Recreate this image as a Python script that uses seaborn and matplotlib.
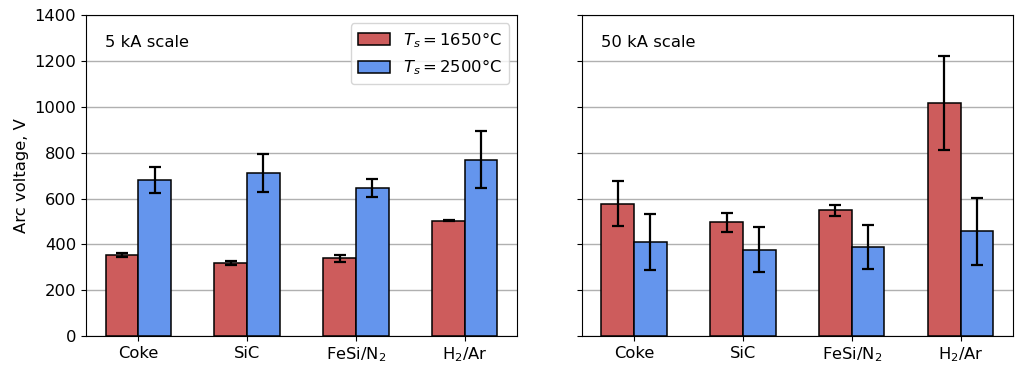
import matplotlib
matplotlib.use("Agg")
import matplotlib.pyplot as plt
import seaborn as sns
import pandas as pd

# materials and the two source temperatures
materials = ["Coke", "SiC", "FeSi/N$_2$", "H$_2$/Ar"]
temps = [r"$T_s = 1650$°C", r"$T_s = 2500$°C"]

# 5 kA scale
v5_1650 = [354, 319, 340, 504]
e5_1650 = [9, 8, 15, 3]
v5_2500 = [680, 711, 645, 769]
e5_2500 = [57, 83, 39, 124]

# 50 kA scale
v50_1650 = [578, 496, 549, 1016]
e50_1650 = [98, 41, 24, 206]
v50_2500 = [412, 377, 388, 457]
e50_2500 = [122, 99, 97, 145]

panels = [
    ("5 kA scale", v5_1650, e5_1650, v5_2500, e5_2500),
    ("50 kA scale", v50_1650, e50_1650, v50_2500, e50_2500),
]

palette = ["#CD5C5C", "#6495ED"]
fs = 11.8

fig = plt.figure(figsize=(10.28, 3.78), dpi=100)
ax1 = fig.add_axes([0.0837, 0.111, 0.4193, 0.849])
ax2 = fig.add_axes([0.566, 0.111, 0.4193, 0.849], sharey=ax1)

for ax, (title, a, ea, b, eb) in zip([ax1, ax2], panels):
    df = pd.DataFrame({
        "material": materials * 2,
        "temp": [temps[0]] * 4 + [temps[1]] * 4,
        "voltage": a + b,
    })
    errs = ea + eb
    sns.barplot(ax=ax, data=df, x="material", y="voltage", hue="temp",
                palette=palette, saturation=1, width=0.6, errorbar=None,
                edgecolor="black", linewidth=1.1, zorder=3)
    bars = ax.patches[:8]
    for p, e in zip(bars, errs):
        xc = p.get_x() + p.get_width() / 2
        ax.errorbar(xc, p.get_height(), yerr=e, color="black", lw=1.6,
                    capsize=4, capthick=1.6, zorder=4)
    ax.set_ylim(0, 1400)
    ax.set_yticks(range(0, 1401, 200))
    ax.yaxis.grid(True, color="#b0b0b0", lw=1, zorder=0)
    ax.set_axisbelow(True)
    ax.set_xlabel("")
    ax.text(0.045, 0.9, title, transform=ax.transAxes, fontsize=fs)
    ax.tick_params(labelsize=fs)

ax1.set_ylabel("Arc voltage, V", fontsize=fs)
ax2.set_ylabel("")
ax2.tick_params(labelleft=False)
ax2.get_legend().remove()
leg = ax1.legend(loc="upper right", fontsize=fs, title=None)

fig.savefig("out.png", dpi=100, facecolor="white")
